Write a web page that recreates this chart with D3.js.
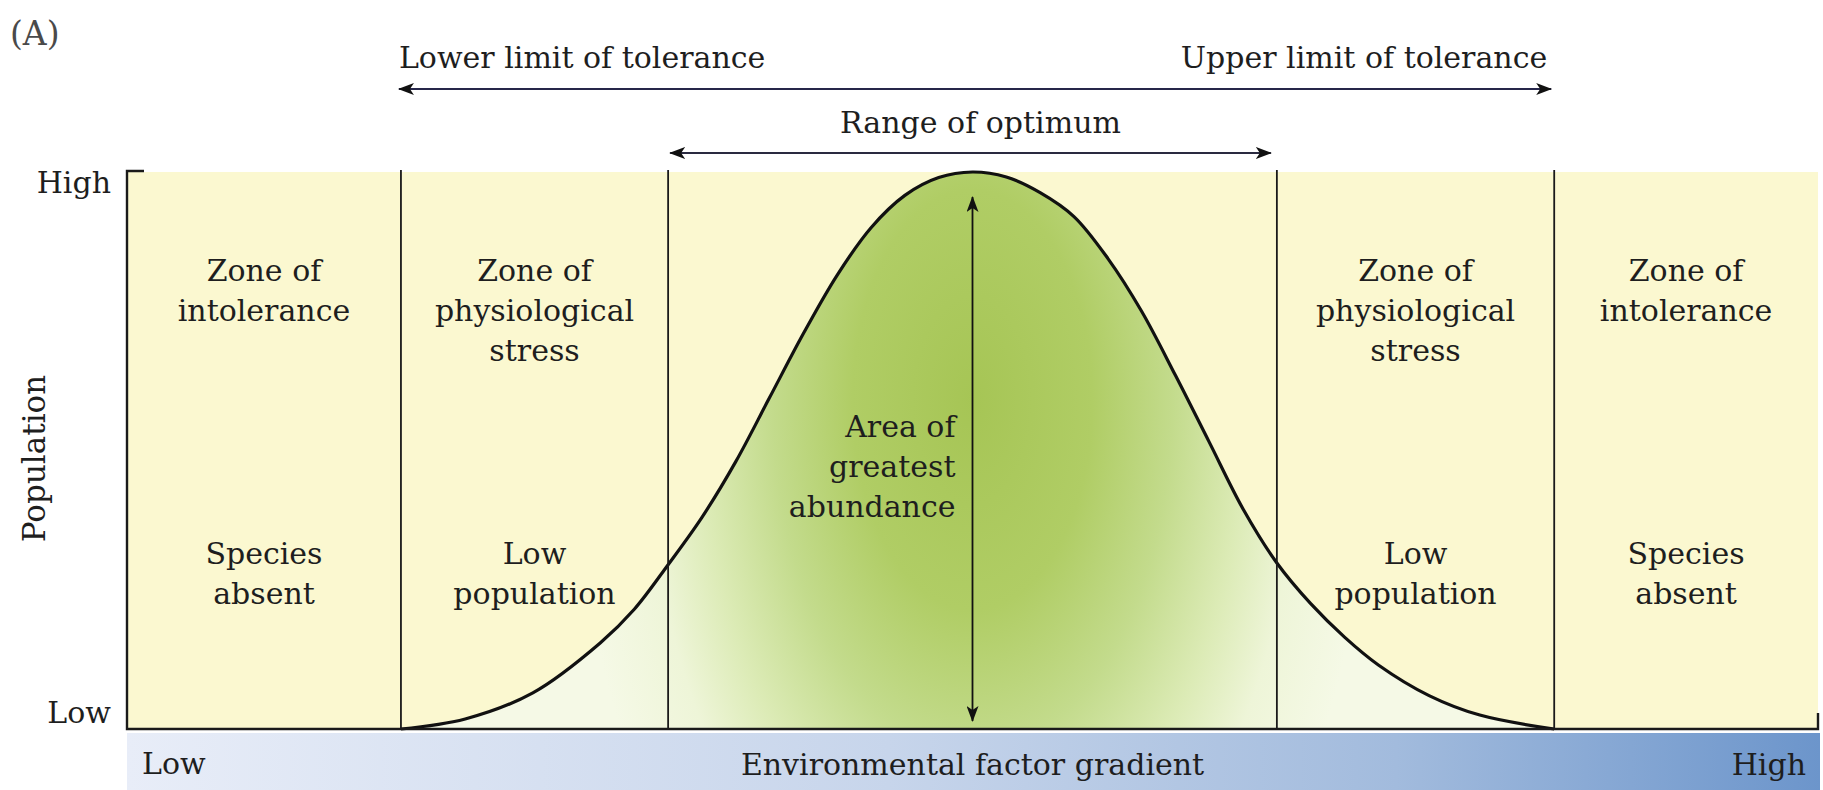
<!DOCTYPE html>
<html><head><meta charset="utf-8">
<script src="https://cdn.jsdelivr.net/npm/d3@7"></script>
<style>
html,body{margin:0;padding:0;background:#fff;}
svg{display:block;}
text{font-family:"DejaVu Serif",serif;fill:#1e1e1e;}
</style></head><body>
<svg id="chart" width="1823" height="790"></svg>
<script>
// ---- data ----
const gradientX  = [16.2,20,24,28,30,32,34,36,38,40,42,44,46,48,50,52,54,56,58,60,62,64,66,68,70,72,74,77,80,84.4];
const population = [0,1.8,6.5,15.5,21.5,29.5,38,48,59.5,71,81.5,90,95.8,99,100,99.1,96.3,92,84.5,75,63.5,51.5,39.5,29.8,22.5,16.5,11.5,6,2.5,0];
const zoneBounds = [16.2, 32, 68, 84.4];
const zoneTopLabels = [["Zone of","intolerance"],["Zone of","physiological","stress"],[],["Zone of","physiological","stress"],["Zone of","intolerance"]];
const zoneBottomLabels = [["Species","absent"],["Low","population"],[],["Low","population"],["Species","absent"]];
const yTickLabels = ["Low","High"];
const xTickLabels = ["Low","High"];
const centerLabel = ["Area of","greatest","abundance"];
const toleranceRange = [16.2, 84.4];
const optimumRange = [32, 68];
const peakX = 50;

// ---- layout ----
const svg = d3.select("#chart");
const x = d3.scaleLinear().domain([0,100]).range([127,1818]);
const y = d3.scaleLinear().domain([0,100]).range([729,172]);
const FS = 30;

const defs = svg.append("defs");
const gcx = x(peakX), gcy = 400;
const fillGrad = defs.append("radialGradient").attr("id","bell")
  .attr("gradientUnits","userSpaceOnUse")
  .attr("cx",gcx).attr("cy",gcy).attr("r",400).attr("fx",gcx).attr("fy",gcy)
  .attr("gradientTransform",`translate(${gcx},${gcy}) scale(1,1.75) translate(${-gcx},${-gcy})`);
[[0,"#a6c555"],[0.3,"#b0cd65"],[0.5,"#c3db8c"],[0.68,"#dcebb6"],[0.82,"#eef5d8"],[1,"#f5f9e6"]]
  .forEach(([o,c])=>fillGrad.append("stop").attr("offset",o).attr("stop-color",c));
const bandGrad = defs.append("linearGradient").attr("id","band");
[[0,"#e8edf8"],[0.45,"#c7d5eb"],[0.75,"#a2bbdd"],[1,"#6c95cb"]]
  .forEach(([o,c])=>bandGrad.append("stop").attr("offset",o).attr("stop-color",c));
function marker(id, color){
  defs.append("marker").attr("id",id).attr("viewBox","0 0 16 12").attr("refX",15).attr("refY",6)
    .attr("markerWidth",16).attr("markerHeight",12).attr("markerUnits","userSpaceOnUse")
    .attr("orient","auto-start-reverse")
    .append("path").attr("d","M0,0 L16,6 L0,12 L4,6 Z").attr("fill",color);
}
marker("ah","#111");

// plot background
svg.append("rect").attr("x",x(0)).attr("y",y(100)).attr("width",x(100)-x(0)).attr("height",y(0)-y(100)).attr("fill","#fbf8d0");

// bottom band
svg.append("rect").attr("x",x(0)).attr("y",y(0)+4).attr("width",x(100)-x(0)+2).attr("height",790-(y(0)+4)).attr("fill","url(#band)");

// bell curve
const curve = d3.curveCatmullRom.alpha(0.5);
const area = d3.area().x((d,i)=>x(gradientX[i])).y0(y(0)).y1((d,i)=>y(population[i])).curve(curve);
const line = d3.line().x((d,i)=>x(gradientX[i])).y((d,i)=>y(population[i])).curve(curve);
svg.append("path").datum(population).attr("d",area).attr("fill","url(#bell)");
svg.append("path").datum(population).attr("d",line).attr("fill","none").attr("stroke","#111").attr("stroke-width",3.2);

// zone dividers
svg.selectAll("line.div").data(zoneBounds).join("line").attr("class","div")
  .attr("x1",d=>x(d)).attr("x2",d=>x(d)).attr("y1",y(100)-2).attr("y2",y(0))
  .attr("stroke","#1a1a1a").attr("stroke-width",1.8);

// axes frame
svg.append("path").attr("d",`M${x(0)+17},${y(100)-1} H${x(0)} V${y(0)} H${x(100)} V${y(0)-16}`)
  .attr("fill","none").attr("stroke","#1a1a1a").attr("stroke-width",2.4);

// vertical double arrow
svg.append("line").attr("x1",x(peakX)).attr("x2",x(peakX)).attr("y1",y(0)-8).attr("y2",y(100)+25)
  .attr("stroke","#111").attr("stroke-width",1.8)
  .attr("marker-start","url(#ah)").attr("marker-end","url(#ah)");

// tolerance arrow
svg.append("line").attr("x1",x(toleranceRange[0])-2).attr("x2",x(toleranceRange[1])-3).attr("y1",89).attr("y2",89)
  .attr("stroke","#26264a").attr("stroke-width",2.2)
  .attr("marker-start","url(#ah)").attr("marker-end","url(#ah)");
// optimum arrow
svg.append("line").attr("x1",x(optimumRange[0])+2).attr("x2",x(optimumRange[1])-6).attr("y1",153).attr("y2",153)
  .attr("stroke","#2a2a40").attr("stroke-width",2.2)
  .attr("marker-start","url(#ah)").attr("marker-end","url(#ah)");

// top texts
svg.append("text").attr("x",x(toleranceRange[0])-2).attr("y",68).attr("font-size",FS).text("Lower limit of tolerance");
svg.append("text").attr("x",x(toleranceRange[1])-7).attr("y",68).attr("font-size",FS).attr("text-anchor","end").text("Upper limit of tolerance");
svg.append("text").attr("x",x(peakX)+8).attr("y",133).attr("font-size",FS).attr("text-anchor","middle").text("Range of optimum");
svg.append("text").attr("x",10).attr("y",45).attr("font-size",33).style("fill","#4a4a4a").text("(A)");

// zone labels
const edges = [0, ...zoneBounds, 100];
const zoneCenters = edges.slice(0,-1).map((e,i)=>(x(e)+x(edges[i+1]))/2);
zoneTopLabels.forEach((lines,i)=>{
  lines.forEach((t,j)=>svg.append("text").attr("x",zoneCenters[i]).attr("y",281+j*40)
    .attr("font-size",FS).attr("text-anchor","middle").text(t));
});
zoneBottomLabels.forEach((lines,i)=>{
  lines.forEach((t,j)=>svg.append("text").attr("x",zoneCenters[i]).attr("y",564+j*40)
    .attr("font-size",FS).attr("text-anchor","middle").text(t));
});
centerLabel.forEach((t,j)=>svg.append("text").attr("x",x(peakX)-17).attr("y",437+j*40)
  .attr("font-size",FS).attr("text-anchor","end").text(t));

// y axis labels
svg.append("text").attr("x",x(0)-16).attr("y",y(100)+21).attr("font-size",FS).attr("text-anchor","end").text(yTickLabels[1]);
svg.append("text").attr("x",x(0)-16).attr("y",y(0)-6).attr("font-size",FS).attr("text-anchor","end").text(yTickLabels[0]);
svg.append("text").attr("transform",`translate(45,${(y(0)+y(100))/2+8}) rotate(-90)`).attr("font-size",FS+1)
  .attr("text-anchor","middle").text("Population");

// x axis labels in band
svg.append("text").attr("x",x(0)+15).attr("y",774).attr("font-size",FS).text(xTickLabels[0]);
svg.append("text").attr("x",x(100)-12).attr("y",775).attr("font-size",FS).attr("text-anchor","end").text(xTickLabels[1]);
svg.append("text").attr("x",x(peakX)).attr("y",775).attr("font-size",FS).attr("text-anchor","middle").text("Environmental factor gradient");
</script>
</body></html>
